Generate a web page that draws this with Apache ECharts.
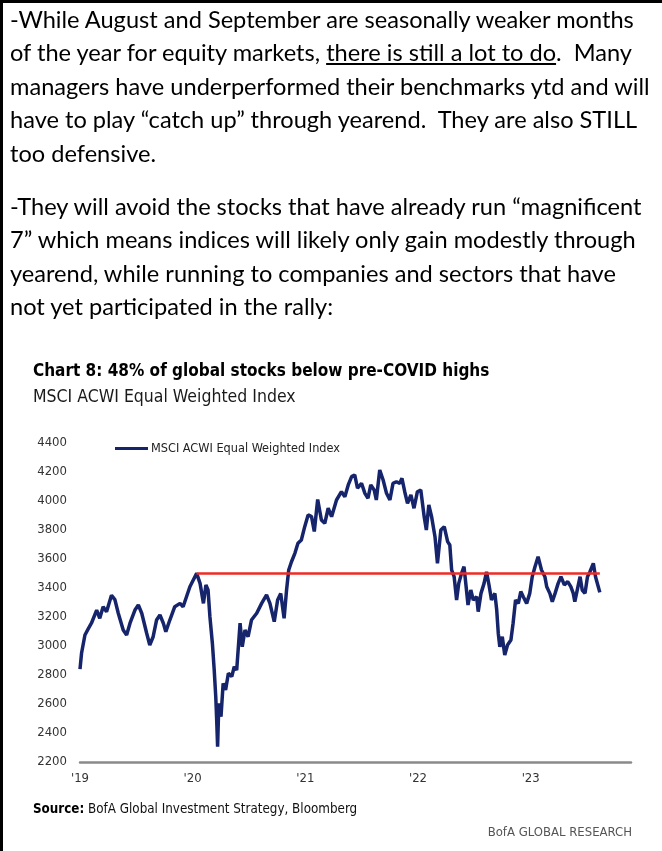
<!DOCTYPE html>
<html>
<head>
<meta charset="utf-8">
<script src="https://cdn.jsdelivr.net/npm/echarts@6/dist/echarts.min.js"></script>
<style>
  html, body { margin: 0; padding: 0; background: #fff; }
  body { width: 662px; height: 851px; position: relative; overflow: hidden; }
  #chart { position: absolute; left: 0; top: 0; width: 662px; height: 851px; }
  #text { position: absolute; left: 10px; top: 3px; font-family: Lato, 'Open Sans', sans-serif; font-size: 23.6px; line-height: 33.4px; color: #000; white-space: pre; z-index: 2; }
  #text p { margin: 0 0 20px 0; }
  #borderL { position: absolute; left: 0; top: 0; width: 3px; height: 851px; background: #000; z-index: 3; }
  #borderT { position: absolute; left: 0; top: 0; width: 662px; height: 3px; background: #000; z-index: 3; }
</style>
</head>
<body>
<div id="chart"></div>
<div id="borderL"></div>
<div id="borderT"></div>
<div id="text"><p>-While August and September are seasonally weaker months
of the year for equity markets, <u>there is still a lot to do</u>.  Many
managers have underperformed their benchmarks ytd and will
have to play “catch up” through yearend.  They are also STILL
too defensive.</p><p>-They will avoid the stocks that have already run “magnificent
7” which means indices will likely only gain modestly through
yearend, while running to companies and sectors that have
not yet participated in the rally:</p></div>
<script>
const seriesName = 'MSCI ACWI Equal Weighted Index';
const dates = [
'2019-01-01','2019-01-06','2019-01-17','2019-01-28','2019-02-07','2019-02-24','2019-03-06','2019-03-17','2019-03-28','2019-04-13',
'2019-04-24','2019-05-05','2019-05-21','2019-06-01','2019-06-12','2019-06-28','2019-07-09','2019-07-20','2019-08-05','2019-08-15',
'2019-08-26','2019-09-06','2019-09-17','2019-09-28','2019-10-06','2019-10-19','2019-11-04','2019-11-21','2019-12-01','2019-12-12',
'2019-12-23','2020-01-03','2020-01-14','2020-01-25','2020-02-05','2020-02-13','2020-02-20','2020-02-26','2020-03-05','2020-03-11',
'2020-03-16','2020-03-19','2020-03-22','2020-03-26','2020-04-02','2020-04-09','2020-04-17','2020-04-26','2020-05-07','2020-05-15',
'2020-05-23','2020-06-03','2020-06-10','2020-06-19','2020-06-29','2020-07-10','2020-07-27','2020-08-12','2020-08-28','2020-09-08',
'2020-09-22','2020-10-03','2020-10-13','2020-10-24','2020-11-01','2020-11-08','2020-11-17','2020-11-28','2020-12-08','2020-12-19',
'2020-12-30','2021-01-10','2021-01-21','2021-01-30','2021-02-10','2021-02-22','2021-03-05','2021-03-16','2021-03-27','2021-04-12',
'2021-04-28','2021-05-09','2021-05-20','2021-05-31','2021-06-10','2021-06-19','2021-07-02','2021-07-13','2021-07-23','2021-08-01',
'2021-08-12','2021-08-19','2021-08-30','2021-09-10','2021-09-21','2021-10-02','2021-10-12','2021-10-23','2021-11-03','2021-11-10',
'2021-11-19','2021-11-28','2021-12-09','2021-12-19','2021-12-30','2022-01-10','2022-01-21','2022-01-28','2022-02-05','2022-02-14',
'2022-02-25','2022-03-05','2022-03-16','2022-03-27','2022-04-07','2022-04-14','2022-04-20','2022-04-28','2022-05-06','2022-05-13',
'2022-05-22','2022-05-30','2022-06-07','2022-06-12','2022-06-21','2022-06-29','2022-07-10','2022-07-15','2022-07-24','2022-08-03',
'2022-08-11','2022-08-19','2022-08-27','2022-09-07','2022-09-13','2022-09-18','2022-09-23','2022-10-01','2022-10-09','2022-10-18',
'2022-10-29','2022-11-05','2022-11-13','2022-11-22','2022-11-30','2022-12-08','2022-12-19','2022-12-29','2023-01-06','2023-01-15',
'2023-01-25','2023-02-05','2023-02-16','2023-02-22','2023-03-04','2023-03-12','2023-03-21','2023-03-31','2023-04-09','2023-04-20',
'2023-05-01','2023-05-11','2023-05-19','2023-05-24','2023-06-02','2023-06-10','2023-06-17','2023-06-26','2023-07-04','2023-07-12',
'2023-07-23','2023-07-30','2023-08-08','2023-08-13'
];
const values = [
2840,2950,3076,3120,3157,3248,3191,3271,3237,3350,
3320,3226,3110,3076,3157,3248,3283,3226,3088,3007,
3064,3179,3214,3157,3099,3179,3271,3294,3271,3340,
3409,3455,3501,3432,3294,3421,3386,3202,3019,2834,
2650,2490,2306,2605,2512,2743,2697,2812,2789,2857,
2834,3157,2995,3110,3064,3179,3226,3294,3352,3294,
3168,3317,3363,3191,3386,3524,3581,3639,3708,3731,
3823,3904,3892,3790,4010,3869,3846,3950,3892,4007,
4064,4030,4111,4168,4180,4088,4122,4053,4019,4111,
4076,4007,4214,4145,4053,4007,4122,4133,4122,4157,
4064,3984,4042,3950,4064,4076,3892,3800,3973,3892,
3754,3570,3800,3823,3720,3697,3524,3478,3317,3432,
3501,3547,3386,3283,3386,3317,3340,3237,3363,3432,
3512,3421,3317,3363,3248,3088,2995,3064,2938,3007,
3041,3157,3317,3294,3375,3340,3294,3363,3478,3547,
3616,3524,3478,3409,3363,3306,3363,3432,3478,3421,
3444,3409,3363,3306,3398,3478,3386,3363,3478,3512,
3570,3478,3409,3370
];
const preCovidHigh = 3500;
const highLineDates = ['2020-01-14', '2023-08-13'];
const xAxisStart = '2019-01-01';
const xAxisEnd = '2023-11-22';
const yearLabels = {2019: "'19", 2020: "'20", 2021: "'21", 2022: "'22", 2023: "'23"};
const yMin = 2200, yMax = 4400, yStep = 200;

function toYear(s) {
  const d = Date.parse(s + 'T00:00:00Z');
  const y = new Date(d).getUTCFullYear();
  const a = Date.UTC(y, 0, 1), b = Date.UTC(y + 1, 0, 1);
  return y + (d - a) / (b - a);
}

const NARROW = "'Liberation Sans Narrow', 'DejaVu Sans Condensed', 'Roboto', sans-serif";
const chart = echarts.init(document.getElementById('chart'), null, {renderer: 'canvas'});
chart.setOption({
  animation: false,
  backgroundColor: '#fff',
  title: [
    {text: 'Chart 8: 48% of global stocks below pre-COVID highs', left: 33, top: 363, padding: 0,
     textStyle: {fontFamily: NARROW, fontSize: 17, fontWeight: 'bold', color: '#000'}},
    {text: 'MSCI ACWI Equal Weighted Index', left: 33, top: 388, padding: 0,
     textStyle: {fontFamily: NARROW, fontSize: 17.5, fontWeight: 'normal', color: '#1a1a1a'}},
    {text: '{b|Source:} BofA Global Investment Strategy, Bloomberg', left: 33, top: 803, padding: 0,
     textStyle: {fontFamily: NARROW, fontSize: 13.3, fontWeight: 'normal', color: '#111',
       rich: {b: {fontFamily: NARROW, fontSize: 13.3, fontWeight: 'bold', color: '#000'}}}},
    {text: 'BofA GLOBAL RESEARCH', right: 30, top: 826, padding: 0,
     textStyle: {fontFamily: NARROW, fontSize: 13, fontWeight: 'normal', color: '#555'}}
  ],
  legend: {
    data: [seriesName], left: 115, top: 442, icon: 'rect', itemWidth: 33, itemHeight: 3,
    itemGap: 0, padding: 0,
    textStyle: {fontFamily: NARROW, fontSize: 12.6, color: '#222', padding: [0,0,0,-2]}
  },
  grid: {left: 80, right: 31, top: 443, bottom: 89, containLabel: false},
  xAxis: {
    type: 'value', min: toYear(xAxisStart), max: toYear(xAxisEnd), interval: 1,
    axisLine: {show: true, lineStyle: {color: '#8a8a8a', width: 2.5}},
    axisTick: {show: false}, splitLine: {show: false},
    axisLabel: {margin: 10, fontFamily: NARROW, fontSize: 13, color: '#333',
      formatter: v => (Math.abs(v - Math.round(v)) < 1e-6 && yearLabels[Math.round(v)]) ? yearLabels[Math.round(v)] : ''}
  },
  yAxis: {
    type: 'value', min: yMin, max: yMax, interval: yStep,
    axisLine: {show: false}, axisTick: {show: false}, splitLine: {show: false},
    axisLabel: {margin: 13, fontFamily: NARROW, fontSize: 13, color: '#333', formatter: v => String(v)}
  },
  series: [
    {name: seriesName, type: 'line', showSymbol: false, symbol: 'none',
     data: dates.map((d, i) => [toYear(d), values[i]]),
     lineStyle: {color: '#15246b', width: 3.5}, itemStyle: {color: '#15246b'}, z: 2},
    {name: 'Pre-COVID high', type: 'line', showSymbol: false, symbol: 'none',
     data: highLineDates.map(d => [toYear(d), preCovidHigh]),
     lineStyle: {color: '#ee2b24', width: 2.5}, itemStyle: {color: '#ee2b24'}, z: 3}
  ]
});
</script>
</body>
</html>
